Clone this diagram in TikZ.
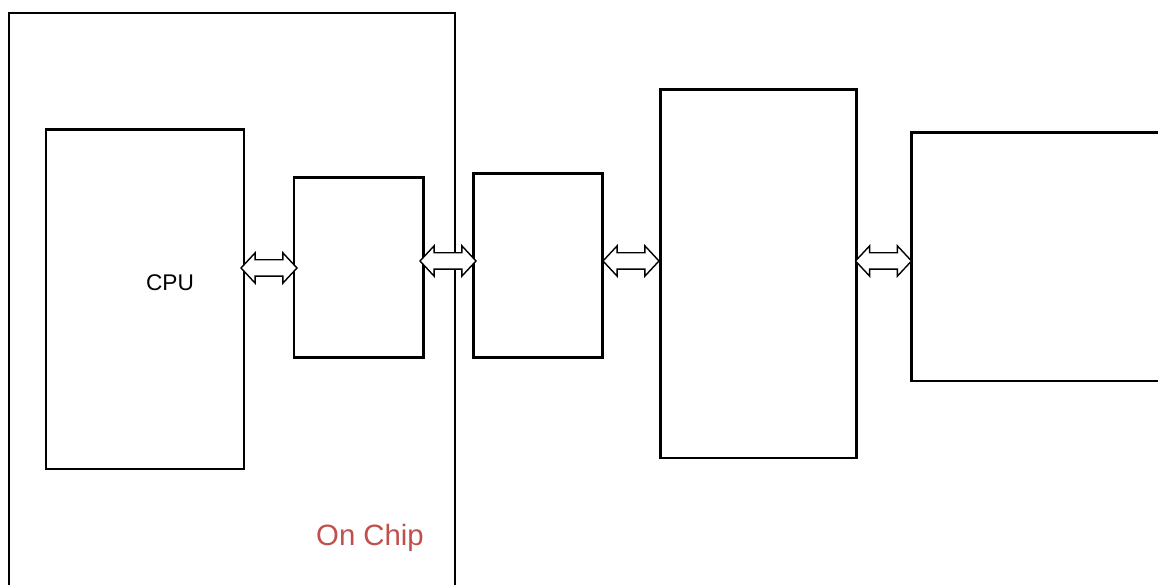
\documentclass[tikz,border=0pt]{standalone}
\usepackage{fontspec}
\setmainfont{Liberation Sans}
\usetikzlibrary{shapes,arrows,positioning,calc}

\definecolor{chipred}{HTML}{C0504D}

\begin{document}
\begin{tikzpicture}[blk/.style={draw, line width=1.7pt, inner sep=0pt}, dblarrow/.style={draw, fill=white, line width=0.8pt, double arrow, inner xsep=0pt, inner ysep=0.15cm, minimum height=1.12cm, double arrow head extend=0.14cm, double arrow tip angle=94}]
\useasboundingbox (0,0) rectangle (23.16,11.7);
% on chip area
\draw[line width=0.7pt] (0.18,-0.2) -- (0.18,11.44) -- (9.10,11.44) -- (9.10,-0.2);
\node[font=\fontsize{16.7}{20}\selectfont, text=chipred] (chip) at (7.40,0.95) {On Chip};

\node[blk, minimum width=3.96cm, minimum height=6.78cm] (cpu) at (2.90,5.71) {};
\node[font=\fontsize{12.9}{15}\selectfont] (cputxt) at (3.40,6.04) {CPU};
\node[blk, minimum width=2.58cm, minimum height=3.60cm] (l2) at (7.17,6.34) {};
\node[blk, minimum width=2.58cm, minimum height=3.68cm] (l3) at (10.75,6.38) {};
\node[blk, minimum width=3.92cm, minimum height=7.36cm] (mem) at (15.16,6.22) {};
\node[blk, minimum width=5.08cm, minimum height=4.96cm] (disk) at (20.76,6.56) {};

\path (cpu.east |- l2) -- node[dblarrow] (a1) {} (l2.west);
\foreach \a/\b in {l2/l3, l3/mem, mem/disk}
  \path (\a.east |- 0,6.48) -- node[dblarrow] {} (\b.west |- 0,6.48);
\end{tikzpicture}
\end{document}
